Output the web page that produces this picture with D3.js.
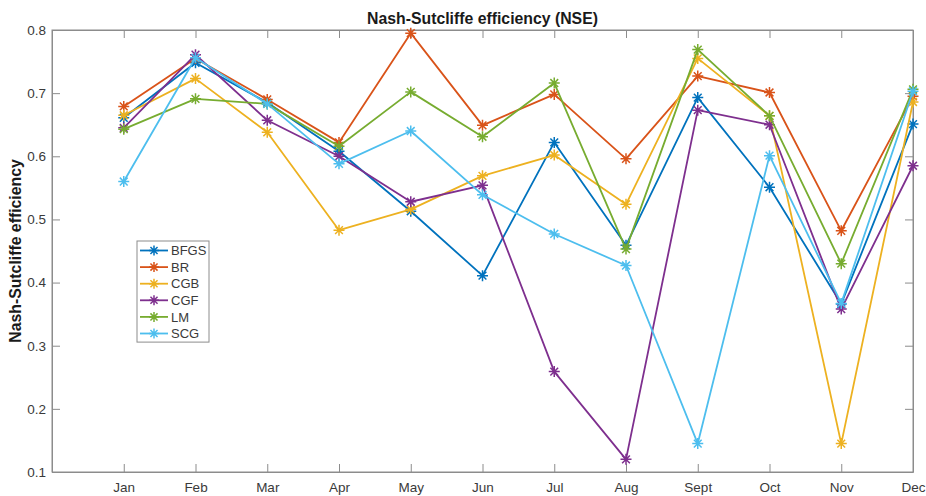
<!DOCTYPE html>
<html>
<head>
<meta charset="utf-8">
<script src="https://cdn.jsdelivr.net/npm/d3@7"></script>
<style>
  html, body { margin: 0; padding: 0; background: #fff; }
  svg { display: block; font-family: "Liberation Sans", Arial, Helvetica, sans-serif; }
</style>
</head>
<body>
<svg id="chart" width="926" height="496"></svg>
<script>
// Monthly NSE for each training algorithm
const months = ["Jan", "Feb", "Mar", "Apr", "May", "Jun", "Jul", "Aug", "Sept", "Oct", "Nov", "Dec"];
const seriesNames = ["BFGS", "BR", "CGB", "CGF", "LM", "SCG"];
const seriesColors = ["#0072BD", "#D95319", "#EDB120", "#7E2F8E", "#77AC30", "#4DBEEE"];

const bfgs = [0.661, 0.748, 0.685, 0.608, 0.513, 0.411, 0.622, 0.459, 0.693, 0.551, 0.366, 0.651];
const br   = [0.679, 0.755, 0.690, 0.622, 0.795, 0.649, 0.698, 0.596, 0.727, 0.701, 0.482, 0.695];
const cgb  = [0.665, 0.723, 0.638, 0.483, 0.516, 0.569, 0.602, 0.524, 0.755, 0.664, 0.145, 0.686];
const cgf  = [0.645, 0.761, 0.657, 0.600, 0.528, 0.554, 0.259, 0.120, 0.673, 0.650, 0.358, 0.585];
const lm   = [0.643, 0.691, 0.683, 0.616, 0.702, 0.631, 0.716, 0.453, 0.769, 0.664, 0.430, 0.706];
const scg  = [0.560, 0.756, 0.683, 0.588, 0.640, 0.539, 0.477, 0.427, 0.145, 0.601, 0.367, 0.703];

const yTicks = [0.1, 0.2, 0.3, 0.4, 0.5, 0.6, 0.7, 0.8];

const allSeries = [bfgs, br, cgb, cgf, lm, scg].map((vals, i) => ({
  name: seriesNames[i], color: seriesColors[i], values: vals
}));

const margin = { top: 30, right: 13, bottom: 24, left: 52 };
const width = 926, height = 496;
const svg = d3.select("#chart");

const x = d3.scaleLinear().domain([0, months.length]).range([margin.left, width - margin.right]);
const y = d3.scaleLinear().domain([0.1, 0.8]).range([height - margin.bottom, margin.top]);

const axisColor = "#8c8c8c";
const textColor = "#3a3a3a";

// Plot box
svg.append("rect")
  .attr("x", x(0)).attr("y", y(0.8))
  .attr("width", x(months.length) - x(0)).attr("height", y(0.1) - y(0.8))
  .attr("fill", "#fff").attr("stroke", axisColor).attr("stroke-width", 1);

const tickLen = 8;
const monthPos = months.map((m, i) => i + 1);

// Bottom axis with inward ticks
const xAxis = d3.axisBottom(x).tickValues(monthPos)
  .tickFormat((d) => months[d - 1]).tickSizeInner(-tickLen).tickSizeOuter(0).tickPadding(10);
const gx = svg.append("g").attr("transform", `translate(0,${y(0.1)})`).call(xAxis);
// Top mirror ticks
const gxt = svg.append("g").attr("transform", `translate(0,${y(0.8)})`)
  .call(d3.axisTop(x).tickValues(monthPos).tickFormat("").tickSizeInner(-tickLen).tickSizeOuter(0));
// Left axis with inward ticks
const yAxis = d3.axisLeft(y).tickValues(yTicks).tickFormat(d3.format(".1f"))
  .tickSizeInner(-tickLen).tickSizeOuter(0).tickPadding(6);
const gy = svg.append("g").attr("transform", `translate(${x(0)},0)`).call(yAxis);
// Right mirror ticks
const gyr = svg.append("g").attr("transform", `translate(${x(months.length)},0)`)
  .call(d3.axisRight(y).tickValues(yTicks).tickFormat("").tickSizeInner(-tickLen).tickSizeOuter(0));

[gx, gxt, gy, gyr].forEach((g) => {
  g.select(".domain").attr("stroke", axisColor);
  g.selectAll(".tick line").attr("stroke", axisColor);
  g.selectAll(".tick text").attr("fill", textColor).attr("font-size", 13.5)
    .attr("font-family", "Liberation Sans, Arial, sans-serif");
});

// Asterisk marker: eight-armed star
const starPath = (r) => {
  const d = r * Math.SQRT1_2;
  return `M${-r},0L${r},0M0,${-r}L0,${r}M${-d},${-d}L${d},${d}M${-d},${d}L${d},${-d}`;
};

const line = d3.line().x((d, i) => x(i + 1)).y((d) => y(d));

const gSeries = svg.append("g");
allSeries.forEach((s) => {
  const g = gSeries.append("g");
  g.append("path").datum(s.values)
    .attr("d", line).attr("fill", "none")
    .attr("stroke", s.color).attr("stroke-width", 1.8).attr("stroke-linejoin", "round");
  g.selectAll("path.mk").data(s.values).join("path")
    .attr("class", "mk")
    .attr("transform", (d, i) => `translate(${x(i + 1)},${y(d)})`)
    .attr("d", starPath(5.5)).attr("stroke", s.color).attr("stroke-width", 1.5).attr("fill", "none");
});

// Title
svg.append("text")
  .attr("x", (x(0) + x(months.length)) / 2).attr("y", 23.5)
  .attr("text-anchor", "middle").attr("font-weight", "bold").attr("font-size", 15.8)
  .attr("fill", "#1a1a1a").text("Nash-Sutcliffe efficiency (NSE)");

// Y axis title
svg.append("text")
  .attr("transform", `translate(21,${(y(0.1) + y(0.8)) / 2}) rotate(-90)`)
  .attr("text-anchor", "middle").attr("font-weight", "bold").attr("font-size", 15.8)
  .attr("fill", "#1a1a1a").text("Nash-Sutcliffe efficiency");

// Legend
const lgX = 137, lgY = 241, lgW = 72, lgRow = 16.6;
const legend = svg.append("g").attr("transform", `translate(${lgX},${lgY})`);
legend.append("rect")
  .attr("width", lgW).attr("height", lgRow * seriesNames.length + 1.5)
  .attr("fill", "#fff").attr("stroke", axisColor).attr("stroke-width", 1);
allSeries.forEach((s, i) => {
  const cy = 9.5 + i * lgRow;
  legend.append("line").attr("x1", 3).attr("x2", 31).attr("y1", cy).attr("y2", cy)
    .attr("stroke", s.color).attr("stroke-width", 1.8);
  legend.append("path").attr("transform", `translate(17,${cy})`)
    .attr("d", starPath(5)).attr("stroke", s.color).attr("stroke-width", 1.5);
  legend.append("text").attr("x", 34).attr("y", cy + 4.6)
    .attr("font-size", 13).attr("fill", textColor).text(s.name);
});
</script>
</body>
</html>
